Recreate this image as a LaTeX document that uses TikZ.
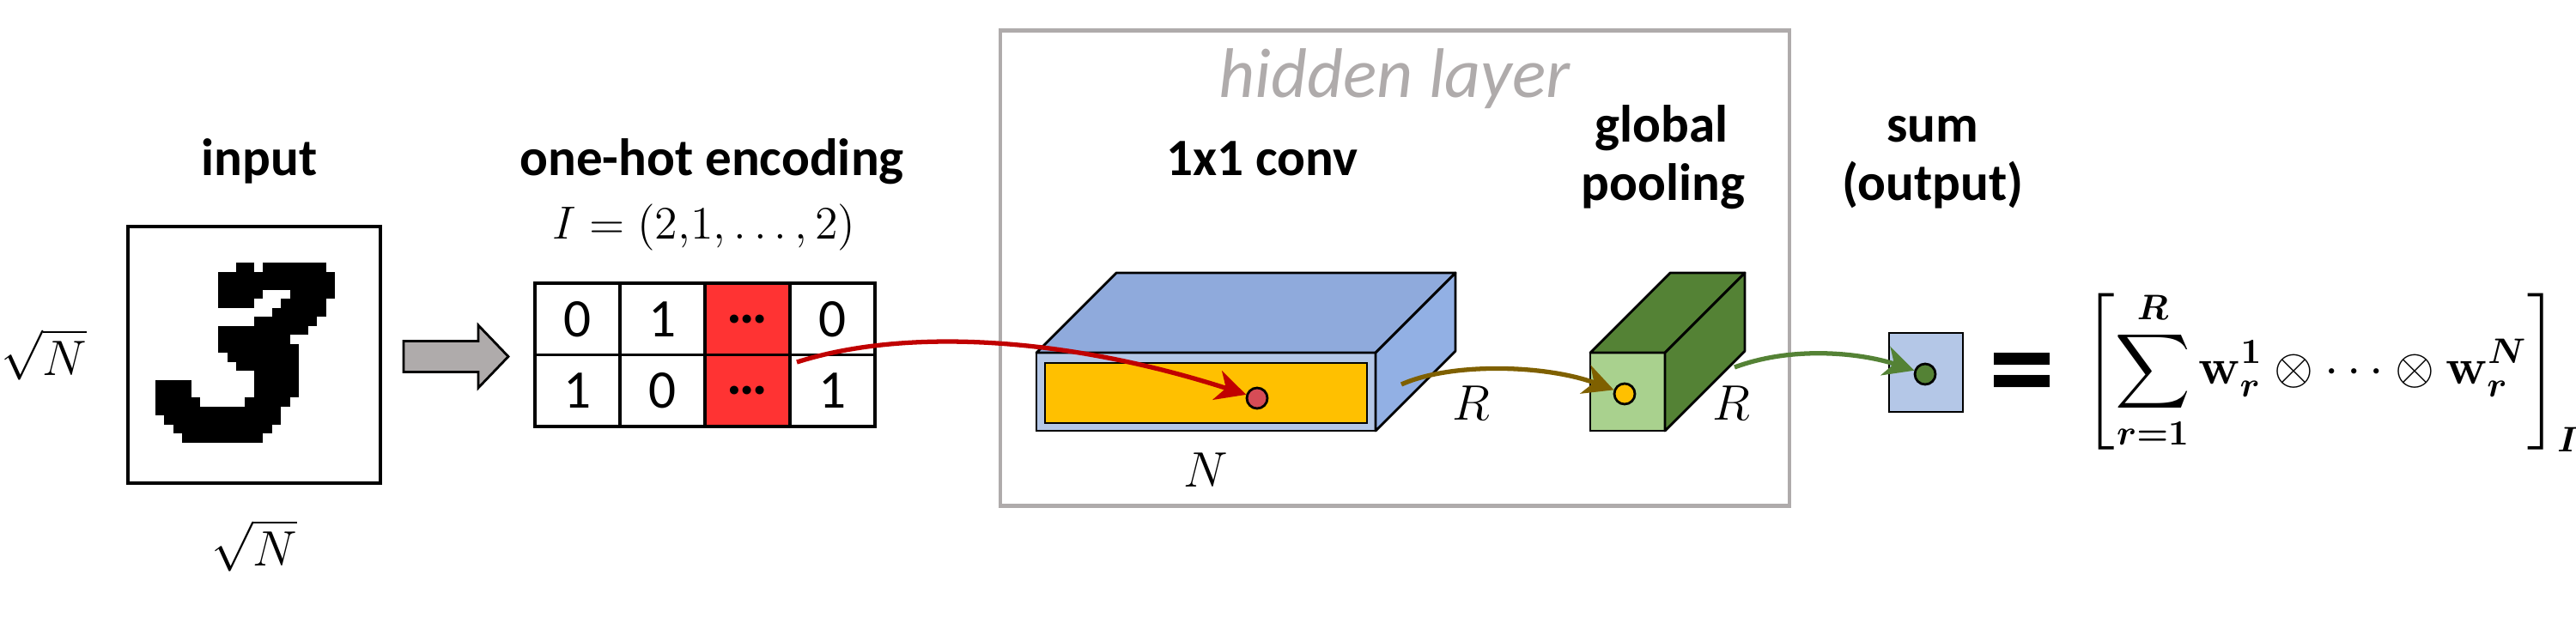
\RequirePackage{fix-cm}
\documentclass[tikz,border=0pt]{standalone}
\usepackage{amsmath}
\usepackage[no-math]{fontspec}
\setmainfont{Carlito}
\usepackage{tikz}
\definecolor{framegray}{RGB}{175, 171, 171}
\definecolor{hotred}{RGB}{255, 51, 51}
\definecolor{flowred}{RGB}{192, 0, 0}
\definecolor{slabtop}{RGB}{143, 170, 220}
\definecolor{slabside}{RGB}{146, 176, 228}
\definecolor{slabfront}{RGB}{180, 199, 231}
\definecolor{mapyellow}{RGB}{255, 192, 0}
\definecolor{dotred}{RGB}{214, 76, 86}
\definecolor{flowbrown}{RGB}{127, 96, 0}
\definecolor{pooldark}{RGB}{84, 130, 53}
\definecolor{poollight}{RGB}{169, 209, 142}
\usetikzlibrary{
    arrows.meta,
    positioning,
    calc
}

\begin{document}
\begin{tikzpicture}[x=1cm, y=-1cm,
            title/.style={font=\fontsize{17.4}{20}\selectfont\bfseries, anchor=base, inner sep=0pt},
            mathlbl/.style={font=\fontsize{16.5}{19}\selectfont, inner sep=0pt},
            cell/.style={draw, line width=1.1pt, minimum width=0.99cm, minimum height=0.835cm, inner sep=0pt, font=\fontsize{18}{20}\selectfont},
            face/.style={draw=black, line width=0.8pt, line join=round},
            box3d/.style={draw, line width=0.8pt, outer sep=0pt, inner sep=0pt},
            dot/.style={circle, draw, line width=0.8pt, minimum size=0.24cm, inner sep=0pt},
            flow/.style={line width=1.5pt, -{Stealth[length=10pt, width=10pt, inset=3pt]}}]
            \useasboundingbox (0,0) rectangle (30,7.39);

            % Hidden layer frame
            \node[draw=framegray, line width=1.4pt, minimum width=9.19cm, minimum height=5.54cm] (hidden) at (16.245, 3.125) {};
            \node[font=\fontsize{23.3}{26}\selectfont\itshape, text=framegray, anchor=base, inner sep=0pt] (hlabel) at (16.24, 1.13) {hidden layer};

            % Input
            \node[draw, line width=1.1pt, minimum width=2.94cm, minimum height=2.99cm, inner sep=0pt] (inbox) at (2.96, 4.135) {};
            \foreach \r/\a/\b in {4/12/13, 4/15/21, 5/10/22, 6/10/22, 7/10/14, 7/18/22, 8/10/13, 8/17/21,
                                  9/16/21, 10/14/20, 11/10/19, 12/10/17, 13/10/18, 14/11/18, 15/12/18,
                                  16/14/18, 17/3/6, 17/14/18, 18/3/6, 18/14/18, 19/3/7, 19/13/17,
                                  20/3/16, 21/4/16, 22/5/15, 23/6/14}
                \fill ({1.49+\a*0.105},{2.64+\r*0.105}) rectangle ({1.49+(\b+1)*0.105},{2.64+(\r+1)*0.105});
            \node[title] (tinput) at (3.02, 2.04) {input};
            \node[mathlbl, left=0.45cm of inbox] (sqrtl) {$\sqrt{N}$};
            \node[mathlbl, below=0.40cm of inbox] (sqrtb) {$\sqrt{N}$};
            \filldraw[fill=framegray, draw=black, line width=0.8pt] (4.70,3.975) -- (5.57,3.975) -- (5.57,3.79) -- (5.92,4.155)
                -- (5.57,4.52) -- (5.57,4.335) -- (4.70,4.335) -- cycle;

            % One-hot encoding
            \node[title] (tonehot) at (8.29, 2.04) {one-hot encoding};
            \node[font=\fontsize{15.4}{18}\selectfont, anchor=base, inner sep=0pt] (index) at (8.20, 2.78) {$I = (2{,}1, \ldots, 2)$};
            \node[cell] (c11) at (6.725, 3.7175) {0};
            \node[cell] (c12) at (7.715, 3.7175) {1};
            \node[cell, fill=hotred, font=\fontsize{19}{20}\selectfont\bfseries] (c13) at (8.705, 3.7175) {…};
            \node[cell] (c14) at (9.695, 3.7175) {0};
            \node[cell] (c21) at (6.725, 4.5525) {1};
            \node[cell] (c22) at (7.715, 4.5525) {0};
            \node[cell, fill=hotred, font=\fontsize{19}{20}\selectfont\bfseries] (c23) at (8.705, 4.5525) {…};
            \node[cell] (c24) at (9.695, 4.5525) {1};
            \coordinate (redstart) at (9.28, 4.22);

            % 1x1 conv
            \node[title] (tconv) at (14.70, 2.04) {1x1 conv};
            \node[box3d, fill=slabfront, minimum width=3.95cm, minimum height=0.91cm] (slab) at (14.045, 4.565) {};
            \node[box3d, fill=mapyellow, minimum width=3.75cm, minimum height=0.70cm] (slabin) at (14.045, 4.58) {};
            \filldraw[face, fill=slabtop] (slab.north west) -- ++(0.93,-0.93) -- ($(slab.north east)+(0.93,-0.93)$) -- (slab.north east) -- cycle;
            \filldraw[face, fill=slabside] (slab.north east) -- ++(0.93,-0.93) -- ($(slab.south east)+(0.93,-0.93)$) -- (slab.south east) -- cycle;
            \node[dot, fill=dotred] (rdot) at (14.64, 4.64) {};
            \node[mathlbl, below=0.25cm of slab] (nlbl) {$N$};
            \node[mathlbl] (rconv) at (17.13, 4.70) {$R$};
            \coordinate (brownstart) at (16.32, 4.48);

            % Global pooling
            \node[title] (tpool1) at (19.35, 1.65) {global};
            \node[title] (tpool2) at (19.37, 2.33) {pooling};
            \node[box3d, fill=poollight, minimum width=0.87cm, minimum height=0.91cm] (pool) at (18.955, 4.565) {};
            \filldraw[face, fill=pooldark] (pool.north west) -- ++(0.93,-0.93) -- ($(pool.north east)+(0.93,-0.93)$) -- (pool.north east) -- cycle;
            \filldraw[face, fill=pooldark] (pool.north east) -- ++(0.93,-0.93) -- ($(pool.south east)+(0.93,-0.93)$) -- (pool.south east) -- cycle;
            \node[dot, fill=mapyellow] (ydot) at (18.92, 4.59) {};
            \node[mathlbl] (rpool) at (20.16, 4.70) {$R$};
            \coordinate (greenstart) at (20.20, 4.28);

            % Output
            \node[title] (tsum1) at (22.51, 1.65) {sum};
            \node[title] (tsum2) at (22.51, 2.33) {(output)};
            \node[box3d, fill=slabfront, minimum width=0.86cm, minimum height=0.92cm] (outbox) at (22.43, 4.34) {};
            \node[dot, fill=pooldark] (gdot) at (22.42, 4.36) {};
            \node[font=\fontsize{44}{48}\selectfont\bfseries, inner sep=0pt] (eqsign) at (23.545, 4.46) {=};
            \node[font=\fontsize{16.8}{20}\selectfont, anchor=west, inner sep=0pt] (eqn) at (24.27, 4.32)
                {$\displaystyle\left[\sum_{\boldsymbol{r=1}}^{\boldsymbol{R}} \mathbf{w}_{\boldsymbol{r}}^{\boldsymbol{1}} \otimes \cdots \otimes \mathbf{w}_{\boldsymbol{r}}^{\boldsymbol{N}}\right]_{\boldsymbol{I}}$};

            % Flows
            \draw[flow, flowred] (redstart) .. controls (10.6,3.80) and (12.5,3.95) .. (rdot);
            \draw[flow, flowbrown] (brownstart) .. controls (16.9,4.22) and (18.0,4.25) .. (ydot);
            \draw[flow, pooldark] (greenstart) .. controls (20.9,4.02) and (21.7,4.12) .. (gdot);
        \end{tikzpicture}
\end{document}
